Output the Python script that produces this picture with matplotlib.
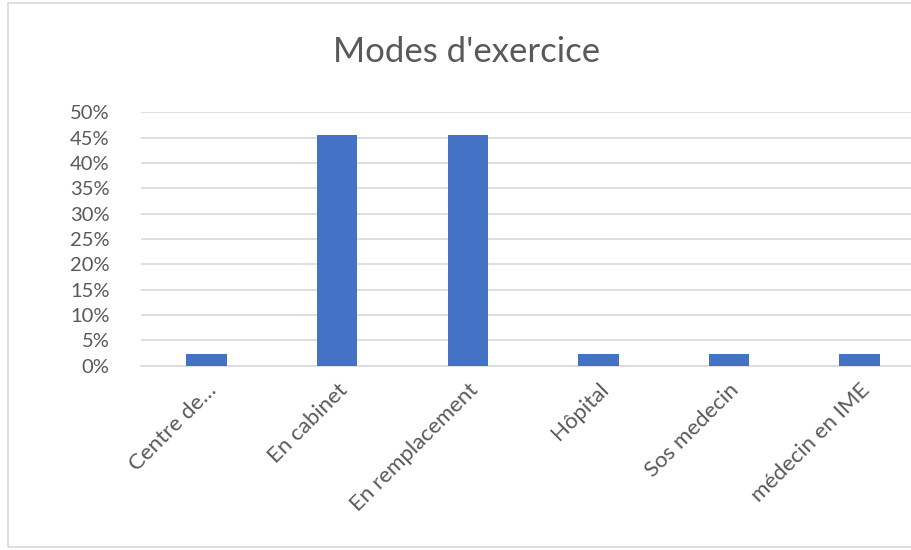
import matplotlib.pyplot as plt
from matplotlib.patches import Rectangle
from matplotlib.ticker import PercentFormatter

categories = ["Centre de…", "En cabinet", "En remplacement", "Hôpital", "Sos medecin", "médecin en IME"]
shares = [0.0227, 0.4545, 0.4545, 0.0227, 0.0227, 0.0227]
y_ticks = [0, 0.05, 0.10, 0.15, 0.20, 0.25, 0.30, 0.35, 0.40, 0.45, 0.50]

plt.rcParams['font.family'] = ['Lato', 'DejaVu Sans']
text_grey = '#595959'
grid_grey = '#d9d9d9'

fig = plt.figure(figsize=(9.12, 5.5), dpi=100)
# outer chart border (right side is cropped in the reference)
fig.patches.append(Rectangle((8 / 912, 3 / 550), 1.0, 544 / 550, transform=fig.transFigure,
                             fill=False, edgecolor=grid_grey, linewidth=1.2))

ax = fig.add_axes([0.155, 0.335, 0.859, 0.461])
x = range(len(categories))
ax.bar(x, shares, width=0.31, color='#4472C4', zorder=3)

ax.set_xlim(-0.5, len(categories) - 0.5)
ax.set_ylim(0, 0.5)
ax.set_yticks(y_ticks)
ax.yaxis.set_major_formatter(PercentFormatter(1.0, decimals=0))
ax.grid(axis='y', color=grid_grey, linewidth=1.2, zorder=0)

for s in ['top', 'right', 'left']:
    ax.spines[s].set_visible(False)
ax.spines['bottom'].set_color(grid_grey)
ax.spines['bottom'].set_linewidth(1.2)

ax.set_xticks(list(x))
ax.set_xticklabels(categories, rotation=45, ha='right', rotation_mode='anchor')
ax.tick_params(axis='both', length=0, colors=text_grey)
ax.tick_params(axis='x', labelsize=16, pad=10)
ax.tick_params(axis='y', labelsize=14.5, pad=23)

fig.text(0.512, 0.905, "Modes d'exercice", ha='center', va='center',
         fontsize=25, color=text_grey)

fig.savefig('out.png', dpi=100)
